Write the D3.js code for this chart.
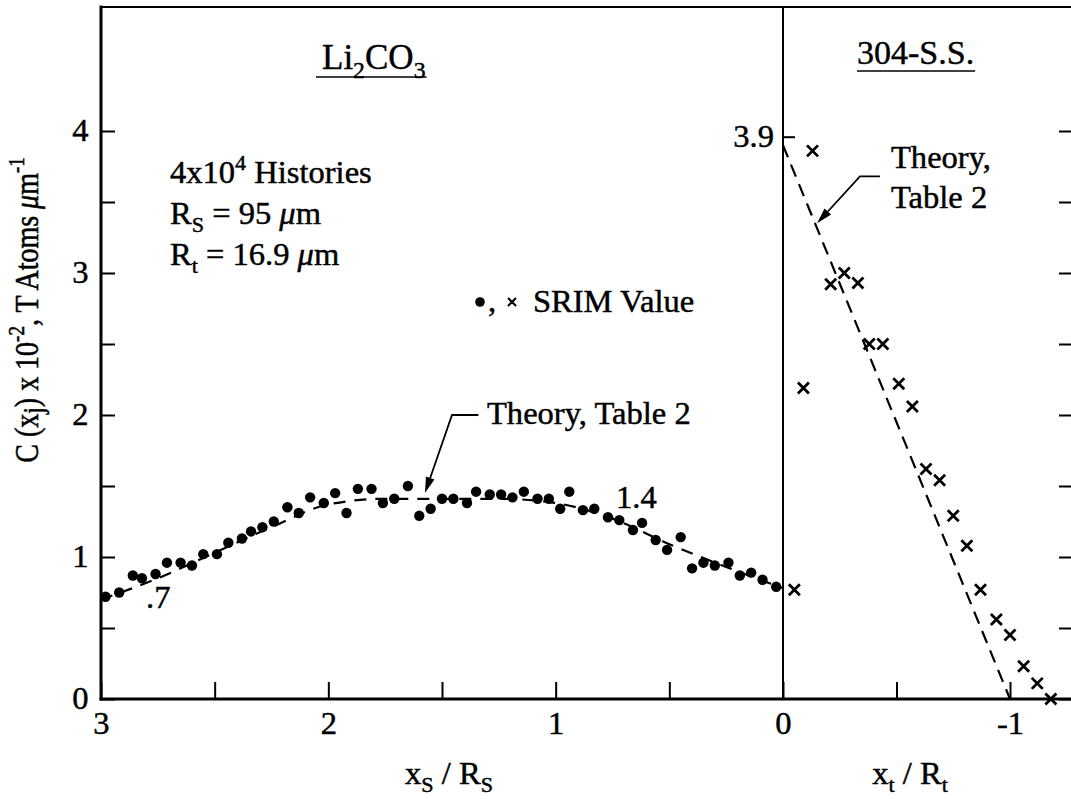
<!DOCTYPE html>
<html>
<head>
<meta charset="utf-8">
<script src="https://cdn.jsdelivr.net/npm/d3@7"></script>
<style>
    body { margin: 0; background: #fff; }
    svg text { font-family: "Liberation Serif", "Times New Roman", serif; fill: #000; stroke: #000; stroke-width: 0.45px; white-space: pre; }
</style>
</head>
<body>
<div id="chart"></div>
<script>
// Li2CO3 side: SRIM values (dots), x = xs / Rs
var liX = [2.98, 2.92, 2.86, 2.82, 2.76, 2.71, 2.65, 2.60, 2.55, 2.49, 2.44, 2.38, 2.34, 2.29, 2.24,
    2.18, 2.13, 2.08, 2.02, 1.97, 1.92, 1.87, 1.81, 1.76, 1.71, 1.65, 1.60, 1.55, 1.50, 1.45,
    1.39, 1.35, 1.29, 1.24, 1.19, 1.14, 1.08, 1.03, 0.98, 0.94, 0.88, 0.83, 0.77, 0.72, 0.66,
    0.62, 0.56, 0.51, 0.45, 0.40, 0.35, 0.30, 0.24, 0.19, 0.14, 0.09, 0.03];
var liY = [0.72, 0.75, 0.87, 0.85, 0.88, 0.96, 0.96, 0.94, 1.02, 1.02, 1.10, 1.13, 1.18, 1.21, 1.25,
    1.35, 1.31, 1.42, 1.38, 1.45, 1.31, 1.48, 1.48, 1.38, 1.41, 1.50, 1.29, 1.34, 1.41, 1.41,
    1.38, 1.46, 1.44, 1.44, 1.42, 1.46, 1.41, 1.41, 1.34, 1.46, 1.33, 1.34, 1.28, 1.26, 1.19,
    1.24, 1.12, 1.05, 1.14, 0.92, 0.96, 0.94, 0.96, 0.87, 0.89, 0.84, 0.79];

// 304-S.S. side: SRIM values (crosses), x = xt / Rt
var ssX = [-0.05, -0.09, -0.13, -0.21, -0.27, -0.33, -0.38, -0.44, -0.51, -0.57,
    -0.63, -0.69, -0.75, -0.81, -0.87, -0.94, -1.00, -1.06, -1.12, -1.18];
var ssY = [0.77, 2.19, 3.86, 2.92, 3.00, 2.93, 2.50, 2.50, 2.22, 2.06,
    1.62, 1.54, 1.29, 1.08, 0.77, 0.56, 0.45, 0.23, 0.11, 0.00];

// Theory, Table 2
var liTheoryX = [3, 2.75, 2.5, 2.25, 2, 1.75, 1.5, 1.25, 1, 0.75, 0.5, 0.25, 0];
var liTheoryY = [0.70, 0.85, 1.03, 1.21, 1.37, 1.41, 1.41, 1.41, 1.38, 1.27, 1.09, 0.93, 0.78];
var ssTheoryX = [0, -1];
var ssTheoryY = [3.9, 0];

// ticks
var yTicks = [0, 0.5, 1, 1.5, 2, 2.5, 3, 3.5, 4];
var xsTicks = [3, 2.5, 2, 1.5, 1, 0.5, 0];
var xtTicks = [-0.5, -1];

function init() {
    var w = 1071;
    var h = 799;
    var SX = 1.05;   // scanned type is a little wider than Times
    var FS = 31;

    var svg = d3.select("#chart")
        .append("svg")
        .attr("width", w)
        .attr("height", h);

    var xs = d3.scaleLinear().domain([3, 0]).range([101, 783]);
    var xt = d3.scaleLinear().domain([0, -1]).range([783, 1010]);
    var y = d3.scaleLinear().domain([0, 4]).range([699, 131]);
    var top = 7, right = 1073;

    function styleAxis(g) {
        g.attr("font-size", null).attr("font-family", null);
        g.select(".domain").remove();
        g.selectAll(".tick line").attr("stroke", "#000").attr("stroke-width", 2);
        g.selectAll(".tick text")
            .attr("transform", "scale(" + SX + ",1)")
            .style("font-size", FS + "px");
    }

    // axes
    svg.append("g")
        .attr("transform", "translate(" + xs(3) + ",0)")
        .call(d3.axisLeft(y).tickValues(yTicks).tickSizeInner(-14).tickSizeOuter(0).tickPadding(12)
            .tickFormat(function (d) { return Number.isInteger(d) ? d : ""; }))
        .call(styleAxis);

    svg.append("g")
        .attr("transform", "translate(" + right + ",0)")
        .call(d3.axisLeft(y).tickValues(yTicks).tickSizeInner(14).tickSizeOuter(0).tickFormat(""))
        .call(styleAxis);

    svg.append("g")
        .attr("transform", "translate(0," + y(0) + ")")
        .call(d3.axisBottom(xs).tickValues(xsTicks).tickSizeInner(-17).tickSizeOuter(0).tickPadding(13)
            .tickFormat(function (d) { return Number.isInteger(d) ? d : ""; }))
        .call(styleAxis);

    svg.append("g")
        .attr("transform", "translate(0," + y(0) + ")")
        .call(d3.axisBottom(xt).tickValues(xtTicks).tickSizeInner(-17).tickSizeOuter(0).tickPadding(13)
            .tickFormat(function (d) { return Number.isInteger(d) ? "-" + Math.abs(d) : ""; }))
        .call(styleAxis);

    // frame
    var frame = [
        [xs(3), top, xs(3), y(0), 3],
        [xs(3), y(0), right, y(0), 3],
        [xs(3), top, right, top, 2],
        [xs(0), top, xs(0), y(0), 2]
    ];
    svg.selectAll("line.frame")
        .data(frame)
        .enter()
        .append("line")
        .attr("class", "frame")
        .attr("x1", function (d) { return d[0]; })
        .attr("y1", function (d) { return d[1]; })
        .attr("x2", function (d) { return d[2]; })
        .attr("y2", function (d) { return d[3]; })
        .attr("stroke", "#000")
        .attr("stroke-width", function (d) { return d[4]; })
        .attr("stroke-linecap", "square");

    // theory curves
    var liLine = d3.line()
        .x(function (d) { return xs(d[0]); })
        .y(function (d) { return y(d[1]); })
        .curve(d3.curveMonotoneX);
    svg.append("path")
        .datum(d3.zip(liTheoryX, liTheoryY))
        .attr("d", liLine)
        .attr("fill", "none")
        .attr("stroke", "#000")
        .attr("stroke-width", 2.2)
        .attr("stroke-dasharray", "12,9");

    var ssLine = d3.line()
        .x(function (d) { return xt(d[0]); })
        .y(function (d) { return y(d[1]); });
    svg.append("path")
        .datum(d3.zip(ssTheoryX, ssTheoryY))
        .attr("d", ssLine)
        .attr("fill", "none")
        .attr("stroke", "#000")
        .attr("stroke-width", 2.2)
        .attr("stroke-dasharray", "13,8");

    // SRIM dots
    svg.selectAll("circle.li")
        .data(d3.zip(liX, liY))
        .enter()
        .append("circle")
        .attr("class", "li")
        .attr("cx", function (d) { return xs(d[0]); })
        .attr("cy", function (d) { return y(d[1]); })
        .attr("r", 5.2)
        .attr("fill", "#000");

    // SRIM crosses
    var cross = "M-5.5,-5.5L5.5,5.5M-5.5,5.5L5.5,-5.5";
    svg.selectAll("path.ss")
        .data(d3.zip(ssX, ssY))
        .enter()
        .append("path")
        .attr("class", "ss")
        .attr("d", cross)
        .attr("transform", function (d) { return "translate(" + xt(d[0]) + "," + y(d[1]) + ")"; })
        .attr("stroke", "#000")
        .attr("stroke-width", 2.8)
        .attr("fill", "none");

    // text helper: parts with optional sub / sup / italic
    function label(x, yy, parts, size, sx, anchor) {
        var t = svg.append("text")
            .attr("transform", "translate(" + x + "," + yy + ") scale(" + sx + ",1)")
            .attr("text-anchor", anchor || "start")
            .style("font-size", size + "px");
        var shift = 0;
        parts.forEach(function (p) {
            if (typeof p === "string") p = { t: p };
            var target = p.sup ? -0.42 * size : (p.sub ? 0.25 * size : 0);
            t.append("tspan")
                .attr("dy", target - shift)
                .style("font-size", (p.sup || p.sub ? size * 0.68 : size) + "px")
                .style("font-style", p.it ? "italic" : null)
                .text(p.t);
            shift = target;
        });
        return t;
    }

    function underline(t, x, yy, sx, pad) {
        var bw = t.node().getBBox().width * sx;
        svg.append("line")
            .attr("x1", x - pad).attr("x2", x + bw + 1)
            .attr("y1", yy).attr("y2", yy)
            .attr("stroke", "#000").attr("stroke-width", 1.6);
    }

    // panel titles
    var t1 = label(322, 69, ["Li", { t: "2", sub: true }, "CO", { t: "3", sub: true }], 35, 1.0);
    underline(t1, 322, 77, 1.0, 6);
    var t2 = label(857, 64, ["304-S.S."], 34, 1.0);
    underline(t2, 857, 71, 1.0, 0);

    // run info
    label(170, 183, ["4x10", { t: "4", sup: true }, " Histories"], FS, SX);
    label(170, 224, ["R", { t: "S", sub: true }, " = 95 ", { t: "\u03bc", it: true }, "m"], FS, SX);
    label(170, 265, ["R", { t: "t", sub: true }, " = 16.9 ", { t: "\u03bc", it: true }, "m"], FS, SX);

    // legend
    svg.append("circle").attr("cx", 480).attr("cy", 302).attr("r", 4.8).attr("fill", "#000");
    label(488, 311, [","], FS, SX);
    svg.append("path").attr("d", "M-4,-4L4,4M-4,4L4,-4")
        .attr("transform", "translate(512,302)")
        .attr("stroke", "#000").attr("stroke-width", 2.2);
    label(533, 312, ["SRIM Value"], FS, SX);

    // value labels
    label(146, 608, [".7"], FS, SX);
    label(616, 508, ["1.4"], FS, SX);
    label(774, 147, ["3.9"], FS, SX, "end");
    svg.append("line")
        .attr("x1", xt(0)).attr("x2", xt(0) + 12)
        .attr("y1", y(3.9) - 8).attr("y2", y(3.9) - 8)
        .attr("stroke", "#000").attr("stroke-width", 2);

    // theory annotations
    label(487, 424, ["Theory, Table 2"], FS, SX);
    label(891, 168, ["Theory,"], FS, SX);
    label(891, 208, ["Table 2"], FS, SX);

    function arrow(pts) {
        var n = pts.length;
        var p0 = pts[n - 2], p1 = pts[n - 1];
        var dx = p1[0] - p0[0], dy = p1[1] - p0[1];
        var len = Math.hypot(dx, dy), ux = dx / len, uy = dy / len;
        var L = 16, W = 4.5;
        var bx = p1[0] - ux * L, by = p1[1] - uy * L;
        var shaft = pts.slice(0, n - 1).concat([[bx, by]]);
        svg.append("path")
            .attr("d", d3.line()(shaft))
            .attr("fill", "none").attr("stroke", "#000").attr("stroke-width", 1.8);
        svg.append("path")
            .attr("d", d3.line()([p1, [bx - uy * W, by + ux * W], [bx + uy * W, by - ux * W]]) + "Z")
            .attr("fill", "#000");
    }
    arrow([[xs(1.34), y(2.0)], [xs(1.456), y(2.0)], [xs(1.575), y(1.45)]]);
    arrow([[xt(-0.427), y(3.68)], [xt(-0.339), y(3.68)], [xt(-0.15), y(3.35)]]);

    // axis titles
    label(449, 784, ["x", { t: "S", sub: true }, " / R", { t: "S", sub: true }], FS, SX, "middle");
    label(910, 784, ["x", { t: "t", sub: true }, " / R", { t: "t", sub: true }], FS, SX, "middle");

    var yl = svg.append("text")
        .attr("transform", "translate(38,310) scale(1.2,1) rotate(-90)")
        .attr("text-anchor", "middle")
        .style("font-size", "28px");
    var yParts = ["C (x", { t: "j", sub: true }, ") x 10", { t: "-2", sup: true }, ", T Atoms ",
        { t: "\u03bc", it: true }, "m", { t: "-1", sup: true }];
    var shift = 0;
    yParts.forEach(function (p) {
        if (typeof p === "string") p = { t: p };
        var target = p.sup ? -0.42 * 28 : (p.sub ? 0.15 * 28 : 0);
        yl.append("tspan")
            .attr("dy", target - shift)
            .style("font-size", (p.sup ? 28 * 0.68 : (p.sub ? 28 * 0.85 : 28)) + "px")
            .style("font-style", p.it ? "italic" : null)
            .text(p.t);
        shift = target;
    });
}

window.onload = init;
</script>
</body>
</html>
